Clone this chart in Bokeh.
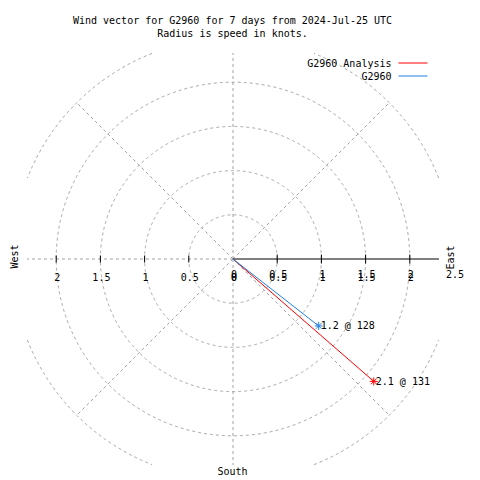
import numpy as np
from bokeh.plotting import figure
from bokeh.models import Range1d
from bokeh.core.properties import value
from bokeh.embed import file_html
from bokeh.resources import INLINE

# ---- data ----
title_lines = ["Wind vector for G2960 for 7 days from 2024-Jul-25 UTC",
               "Radius is speed in knots."]
series_names = ["G2960 Analysis", "G2960"]
speeds = [2.11, 1.23]          # knots
directions = [131, 128]        # degrees clockwise from north
ring_radii = [0.5, 1.0, 1.5, 2.0, 2.5]
spoke_angles = [0, 45, 135, 180, 225, 270, 315]
right_ticks = [0.0, 0.5, 1.0, 1.5, 2.0]
right_tick_labels_upper = ["0", "0.5", "1", "1.5", "2", "2.5"]
right_tick_values_upper = [0.0, 0.5, 1.0, 1.5, 2.0, 2.5]
left_ticks = [-2.0, -1.5, -1.0, -0.5, 0.0]
left_tick_labels = ["2", "1.5", "1", "0.5", "0"]
compass = ["West", "East", "South"]

# ---- layout helpers (pixel layout of the page) ----
S = 88.4            # px per knot
CX, CY = 232.5, 258.5
BOX = 2.33          # clipping box half-size in knots
W = H = 480

def dx(xi):
    return (xi - CX) / S

def dy(yi):
    return (CY - yi) / S

colors = ["#ff0000", "#1f7fe3"]
gray = "#a0a0a0"
FONT = value("DejaVu Sans Mono")

p = figure(width=W, height=H, output_backend="svg", toolbar_location=None,
           x_range=Range1d(dx(0), dx(W)), y_range=Range1d(dy(H), dy(0)),
           min_border=0, min_border_left=0, min_border_right=0,
           min_border_top=0, min_border_bottom=0)
p.axis.visible = False
p.xgrid.visible = False
p.ygrid.visible = False
p.outline_line_color = None
p.background_fill_color = "white"
p.border_fill_color = "white"

# rings clipped to the box
th = np.linspace(0, 2 * np.pi, 1441)
for r in ring_radii:
    x = r * np.cos(th)
    y = r * np.sin(th)
    mask = (np.abs(x) > BOX) | (np.abs(y) > BOX)
    x[mask] = np.nan
    y[mask] = np.nan
    p.line(x, y, line_color=gray, line_width=1, line_dash="3 3")

# spokes
for a in spoke_angles:
    ar = np.radians(a)
    sx, sy = np.sin(ar), np.cos(ar)
    t = 2.5
    if abs(sx) > 1e-9:
        t = min(t, BOX / abs(sx))
    if abs(sy) > 1e-9:
        t = min(t, BOX / abs(sy))
    p.line([0, t * sx], [0, t * sy], line_color=gray, line_width=1, line_dash="3 3")

# east axis (solid)
p.line([0, BOX], [0, 0], line_color="black", line_width=1)
p.scatter(right_ticks[1:], [0] * (len(right_ticks) - 1), marker="dash", angle=np.pi / 2,
          size=9, line_color="black", line_width=1)
p.scatter(left_ticks[:-1], [0] * (len(left_ticks) - 1), marker="dash", angle=np.pi / 2,
          size=7, line_color="black", line_width=1)

# tick labels
p.text(x=right_tick_values_upper, y=[0] * len(right_tick_values_upper),
       text=right_tick_labels_upper, x_offset=1, y_offset=15,
       text_align="center", text_baseline="middle", text_font=FONT,
       text_font_size="10px", text_color="black")
p.text(x=right_ticks, y=[0] * len(right_ticks),
       text=["0", "0.5", "1", "1.5", "2"], x_offset=1, y_offset=18,
       text_align="center", text_baseline="middle", text_font=FONT,
       text_font_size="10px", text_color="black")
p.text(x=left_ticks, y=[0] * len(left_ticks), text=left_tick_labels,
       x_offset=1, y_offset=18, text_align="center", text_baseline="middle",
       text_font=FONT, text_font_size="10px", text_color="black")

# vectors
for name, s, d, c in zip(series_names, speeds, directions, colors):
    ar = np.radians(d)
    vx, vy = s * np.sin(ar), s * np.cos(ar)
    p.line([0, vx], [0, vy], line_color=c, line_width=1)
    p.scatter([vx], [vy], marker="asterisk", size=8, line_color=c, line_width=1)
    p.text(x=[vx], y=[vy], text=[f"{s:.1f} @ {d}"], x_offset=2,
           text_align="left", text_baseline="middle", text_font=FONT,
           text_font_size="10px", text_color="black")

# title
p.text(x=[dx(232), dx(232)], y=[dy(20), dy(33)], text=title_lines,
       text_align="center", text_baseline="middle", text_font=FONT,
       text_font_size="10px", text_color="black")

# legend
leg_y = [62.5, 75.5]
for name, c, yy in zip(series_names, colors, leg_y):
    p.text(x=[dx(391)], y=[dy(yy)], text=[name], text_align="right",
           text_baseline="middle", text_font=FONT, text_font_size="10px",
           text_color="black")
    p.line([dx(398), dx(427)], [dy(yy), dy(yy)], line_color=c, line_width=1)

# compass labels
p.text(x=[dx(14)], y=[dy(256)], text=[compass[0]], angle=np.pi / 2,
       text_align="center", text_baseline="middle", text_font=FONT,
       text_font_size="10px", text_color="black")
p.text(x=[dx(450)], y=[dy(257)], text=[compass[1]], angle=np.pi / 2,
       text_align="center", text_baseline="middle", text_font=FONT,
       text_font_size="10px", text_color="black")
p.text(x=[dx(232)], y=[dy(471)], text=[compass[2]],
       text_align="center", text_baseline="middle", text_font=FONT,
       text_font_size="10px", text_color="black")

open("out.html", "w").write(file_html(p, INLINE))
